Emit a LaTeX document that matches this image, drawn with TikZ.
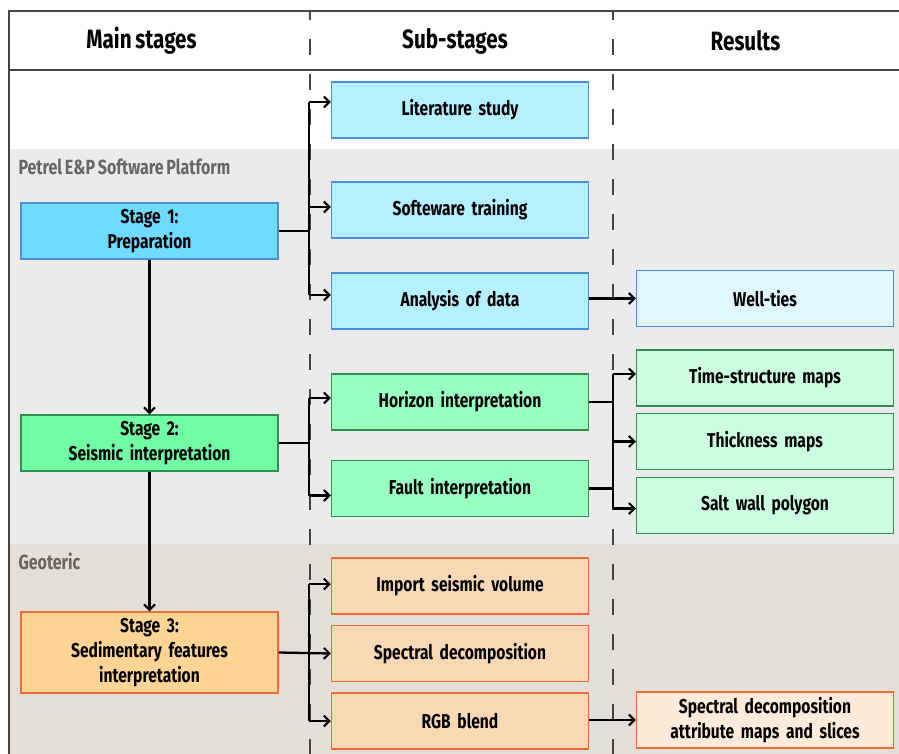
\documentclass[tikz,border=0pt]{standalone}
\usepackage{fontspec}
\setmainfont{Fira Sans}[FakeStretch=0.78, WordSpace=0.75]
\usetikzlibrary{arrows.meta}
\definecolor{bandgray}{HTML}{EBEBEB}
\definecolor{bandbrown}{HTML}{E4DED8}
\definecolor{framec}{HTML}{444444}
\definecolor{bluel}{HTML}{4A90D9}
\definecolor{blue1}{HTML}{6FDCFF}
\definecolor{blue2}{HTML}{B5F0FF}
\definecolor{blue3}{HTML}{E0F7FF}
\definecolor{greenl}{HTML}{2F8F4E}
\definecolor{green1}{HTML}{70FFA5}
\definecolor{green2}{HTML}{99FFC2}
\definecolor{green3}{HTML}{CCFFE0}
\definecolor{orangel}{HTML}{F26A35}
\definecolor{orange1}{HTML}{FFD495}
\definecolor{orange2}{HTML}{F9D9B5}
\definecolor{orange3}{HTML}{FDEBDA}
\definecolor{petrelc}{HTML}{666666}
\definecolor{geoc}{HTML}{6E625A}
\tikzset{
  box/.style={draw, line width=1.5pt, minimum width=257pt, minimum height=56pt,
    inner sep=0pt, align=center, text width=250pt,
    font=\bfseries\fontsize{20}{25}\selectfont},
  bl/.style={box, draw=bluel},
  gr/.style={box, draw=greenl},
  orr/.style={box, draw=orangel},
  hdr/.style={font=\bfseries\fontsize{26.5}{28}\selectfont},
  grp/.style={anchor=west, font=\bfseries\fontsize{20.5}{22}\selectfont},
  conn/.style={line width=2.3pt, black},
  arr/.style={conn, -{Straight Barb[length=5.5pt,width=11pt,line width=2pt]}},
  sep/.style={line width=1.3pt, framec, dash pattern=on 16pt off 19pt, dash phase=7pt}
}
\begin{document}
\begin{tikzpicture}[x=1pt,y=-1pt]
\useasboundingbox (0,0) rectangle (899,754);
% bands
\fill[white] (0,0) rectangle (899,754);
\fill[bandgray] (9,149) rectangle (899,544);
\fill[bandbrown] (9,544) rectangle (899,754);
% frame
\draw[line width=1.5pt, framec] (9,754) -- (9,11) -- (899,11);
\draw[line width=1.5pt, framec] (9,70) -- (899,70);
\draw[sep] (310,11) -- (310,754);
\draw[sep] (613,11) -- (613,754);
% headers
\node[hdr] (h1) at (141.5,41) {Main stages};
\node[hdr] (h2) at (455,41) {Sub-stages};
\node[hdr] (h3) at (745.5,41) {Results};
\node[grp, text=petrelc] (g1) at (15,167) {Petrel E\&P Software Platform};
\node[grp, text=geoc] (g2) at (15,561) {Geoteric};
% main stages
\node[bl, fill=blue1] (s1) at (149.5,231) {Stage 1:\\Preparation};
\node[gr, fill=green1] (s2) at (149.5,443) {Stage 2:\\Seismic interpretation};
\node[orr, fill=orange1, minimum height=81pt] (s3) at (149.5,652.5) {Stage 3:\\Sedimentary features\\interpretation};
% sub-stages
\node[bl, fill=blue2] (lit) at (460,110) {Literature study};
\node[bl, fill=blue2] (soft) at (460,210) {Softeware training};
\node[bl, fill=blue2] (anal) at (460,301) {Analysis of data};
\node[gr, fill=green2] (hor) at (460,402) {Horizon interpretation};
\node[gr, fill=green2] (fault) at (460,488.5) {Fault interpretation};
\node[orr, fill=orange2] (imp) at (460,586) {Import seismic volume};
\node[orr, fill=orange2] (spec) at (460,653.5) {Spectral decomposition};
\node[orr, fill=orange2] (rgb) at (460,721) {RGB blend};
% results
\node[bl, fill=blue3] (well) at (765,298.5) {Well-ties};
\node[gr, fill=green3] (time) at (765,378) {Time-structure maps};
\node[gr, fill=green3] (thick) at (765,441.5) {Thickness maps};
\node[gr, fill=green3] (salt) at (765,505.5) {Salt wall polygon};
\node[orr, fill=orange3] (sdr) at (765,720) {Spectral decomposition\\attribute maps and slices};
% junction coordinates
\coordinate (j1) at (309,231);
\coordinate (j2) at (309,443);
\coordinate (j3) at (309,653);
\coordinate (j4) at (613,402);
\coordinate (litA) at ([yshift=8pt]lit.west);
\coordinate (softA) at ([yshift=3pt]soft.west);
\coordinate (analA) at ([yshift=6pt]anal.west);
\coordinate (horA) at ([yshift=4pt]hor.west);
\coordinate (faultA) at ([yshift=-7pt]fault.west);
\coordinate (impA) at ([yshift=2pt]imp.west);
\coordinate (timeA) at ([yshift=4pt]time.west);
\coordinate (saltA) at ([yshift=-3pt]salt.west);
% main stage flow
\draw[arr] (s1.south) -- (s2.north);
\draw[arr] (s2.south) -- (s3.north);
% stage 1 branches
\draw[conn] (s1.east) -- (j1);
\draw[conn] (j1 |- litA) -- (j1 |- analA);
\draw[arr] (j1 |- litA) -- (litA);
\draw[arr] (j1 |- softA) -- (softA);
\draw[arr] (j1 |- analA) -- (analA);
% stage 2 branches
\draw[conn] (s2.east) -- (j2);
\draw[conn] (j2 |- horA) -- (j2 |- faultA);
\draw[arr] (j2 |- horA) -- (horA);
\draw[arr] (j2 |- faultA) -- (faultA);
% stage 3 branches
\draw[conn] (j3 |- impA) -- (j3 |- rgb.west);
\draw[arr] (s3.east) -- (spec.west);
\draw[arr] (j3 |- impA) -- (impA);
\draw[arr] (j3 |- rgb.west) -- (rgb.west);
% results
\draw[arr] (anal.east |- well.west) -- (well.west);
\draw[conn] (hor.east) -- (j4 |- hor.east);
\draw[conn] (fault.east) -- (j4 |- fault.east);
\draw[conn] (j4 |- timeA) -- (j4 |- saltA);
\draw[arr] (j4 |- timeA) -- (timeA);
\draw[arr] (j4 |- thick.west) -- (thick.west);
\draw[arr] (j4 |- saltA) -- (saltA);
\draw[arr] (rgb.east |- sdr.west) -- (sdr.west);
\end{tikzpicture}
\end{document}
